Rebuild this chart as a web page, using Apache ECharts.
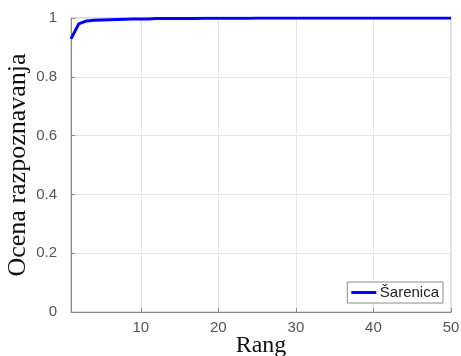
<!DOCTYPE html>
<html><head><meta charset="utf-8">
<script src="https://cdn.jsdelivr.net/npm/echarts@6/dist/echarts.min.js"></script>
<style>html,body{margin:0;padding:0;background:#fff}#c{width:461px;height:356px}</style>
</head><body><div id="c"></div>
<script>
const ranks = [];
for (let r = 1; r <= 50; r++) ranks.push(r);
const sarenica = [0.929, 0.980, 0.990, 0.992, 0.993, 0.994, 0.995, 0.996, 0.997, 0.997,
  0.997, 0.998, 0.998, 0.998, 0.998, 0.998, 0.998, 0.999, 0.999, 0.999,
  0.999, 0.999, 0.999, 0.999, 1, 1, 1, 1, 1, 1,
  1, 1, 1, 1, 1, 1, 1, 1, 1, 1,
  1, 1, 1, 1, 1, 1, 1, 1, 1, 1];
const xTicks = [10, 20, 30, 40, 50];
const yTicks = [0, 0.2, 0.4, 0.6, 0.8, 1];

const chart = echarts.init(document.getElementById('c'), null, {renderer: 'canvas'});
chart.setOption({
  animation: false,
  grid: {left: 71, right: 10, top: 18, bottom: 44, containLabel: false, outerBoundsMode: 'none',
    show: true, borderColor: '#bdbdbd', borderWidth: 1},
  legend: {
    right: 18, bottom: 53,
    data: ['Šarenica'],
    icon: 'path://M0,0 L1,0 L1,0.12 L0,0.12 Z',
    itemWidth: 26, itemHeight: 3, itemGap: 4,
    padding: [3, 4, 3, 4],
    backgroundColor: '#fff', borderColor: '#8a8a8a', borderWidth: 1, borderRadius: 0,
    textStyle: {fontFamily: 'Liberation Sans, Arial, sans-serif', fontSize: 15, color: '#222', padding: [0,0,0,-2]}
  },
  xAxis: {
    type: 'value', min: 1, max: 50,
    name: 'Rang', nameLocation: 'middle', nameGap: 22, nameMoveOverlap: false,
    nameTextStyle: {fontFamily: 'Liberation Serif, Times New Roman, serif', fontSize: 24, color: '#111'},
    axisLine: {show: true, lineStyle: {color: '#888', width: 1}},
    axisTick: {show: true, inside: true, length: 4, lineStyle: {color: '#888'}, customValues: xTicks},
    axisLabel: {fontFamily: 'Liberation Sans, Arial, sans-serif', fontSize: 15, color: '#555', margin: 8, customValues: xTicks},
    splitLine: {show: true, lineStyle: {color: '#e6e6e6', width: 1}},
    interval: 1
  },
  yAxis: {
    type: 'value', min: 0, max: 1, interval: 0.2,
    name: 'Ocena razpoznavanja', nameLocation: 'middle', nameGap: 40, nameMoveOverlap: false,
    nameTextStyle: {fontFamily: 'Liberation Serif, Times New Roman, serif', fontSize: 26, color: '#111'},
    axisLine: {show: true, lineStyle: {color: '#888', width: 1}},
    axisTick: {show: true, inside: true, length: 4, lineStyle: {color: '#888'}},
    axisLabel: {fontFamily: 'Liberation Sans, Arial, sans-serif', fontSize: 15, color: '#555', margin: 14,
      formatter: v => yTicks.includes(Math.round(v*10)/10) ? String(Math.round(v*10)/10) : ''},
    splitLine: {show: true, lineStyle: {color: '#e6e6e6', width: 1}}
  },
  series: [{
    name: 'Šarenica', type: 'line',
    data: ranks.map((r, i) => [r, sarenica[i]]),
    showSymbol: false, symbol: 'none',
    lineStyle: {color: '#0000ff', width: 3},
    itemStyle: {color: '#0000ff'}
  }]
});
</script></body></html>
